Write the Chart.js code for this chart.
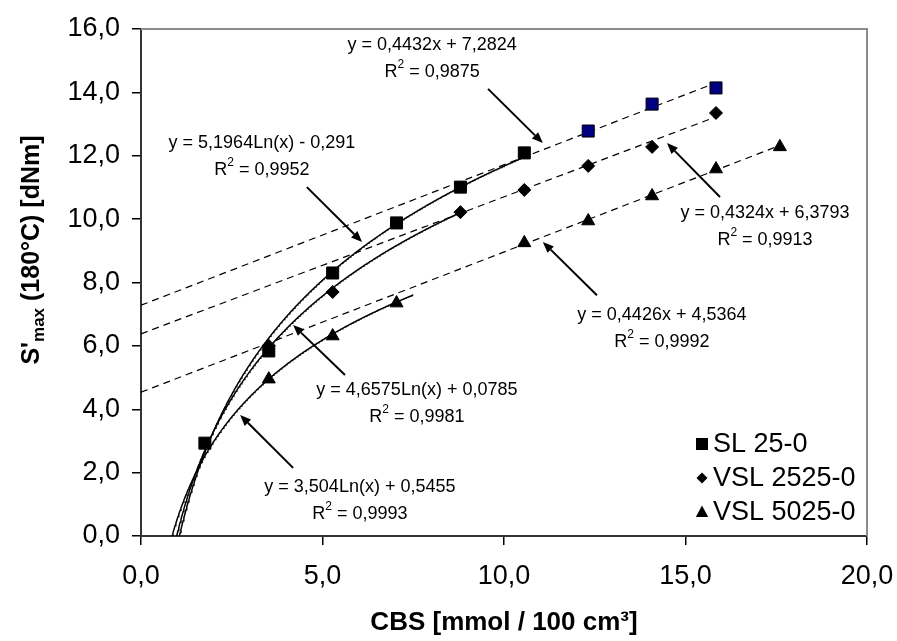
<!DOCTYPE html>
<html>
<head>
<meta charset="utf-8">
<script src="https://cdn.jsdelivr.net/npm/chart.js@4/dist/chart.umd.min.js"></script>
<style>
body { margin: 0; background: #fff; }
canvas { display: block; }
</style>
</head>
<body>
<canvas id="chart" width="897" height="641"></canvas>
<script>
// measured points (CBS in mmol/100 cm3, S'max in dNm)
var cbsSL = [1.76, 3.52, 5.28, 7.04, 8.8, 10.56, 12.32, 14.08, 15.84];
var smaxSL = [2.93, 5.84, 8.30, 9.88, 11.01, 12.09, 12.78, 13.63, 14.14];
var cbsVSL2525 = [3.52, 5.28, 8.8, 10.56, 12.32, 14.08, 15.84];
var smaxVSL2525 = [6.0, 7.70, 10.22, 10.92, 11.68, 12.28, 13.35];
var cbsVSL5025 = [3.52, 5.28, 7.04, 10.56, 12.32, 14.08, 15.84, 17.6];
var smaxVSL5025 = [4.95, 6.31, 7.35, 9.25, 9.94, 10.73, 11.58, 12.28];
var seriesNames = ["SL 25-0", "VSL 2525-0", "VSL 5025-0"];

var xTicks = [0, 5, 10, 15, 20];
var yTicks = [0, 2, 4, 6, 8, 10, 12, 14, 16];

// trendlines as printed on the chart
var logA = [5.1964, 4.6575, 3.504];
var logB = [-0.291, 0.0785, 0.5455];
var logEnd = [10.56, 8.8, 7.5];
var linA = [0.4432, 0.4324, 0.4426];
var linB = [7.2824, 6.3793, 4.5364];
var linEnd = [15.84, 15.84, 17.6];

var logText = ["y = 5,1964Ln(x) - 0,291", "y = 4,6575Ln(x) + 0,0785", "y = 3,504Ln(x) + 0,5455"];
var logR2 = ["0,9952", "0,9981", "0,9993"];
var linText = ["y = 0,4432x + 7,2824", "y = 0,4324x + 6,3793", "y = 0,4426x + 4,5364"];
var linR2 = ["0,9875", "0,9913", "0,9992"];

// label placement in data units: text centre, arrow tail, arrow tip
var notes = [
    { eq: linText[0], r2: linR2[0], at: [8.02, 15.49], from: [9.56, 14.11], to: [11.07, 12.40] },
    { eq: logText[0], r2: logR2[0], at: [3.33, 12.40], from: [4.57, 11.01], to: [6.09, 9.28] },
    { eq: linText[1], r2: linR2[1], at: [17.19, 10.19], from: [15.95, 10.70], to: [14.49, 12.40] },
    { eq: linText[2], r2: linR2[2], at: [14.35, 6.97], from: [12.56, 7.60], to: [11.07, 9.28] },
    { eq: logText[1], r2: logR2[1], at: [7.60, 4.61], from: [5.62, 5.08], to: [4.19, 6.66] },
    { eq: logText[2], r2: logR2[2], at: [6.03, 1.55], from: [4.19, 2.15], to: [2.73, 3.82] }
];

var FONT = "'Liberation Sans', Arial, sans-serif";

function fmt(v) {
    return Number(v).toFixed(1).replace(".", ",");
}

function pairs(xs, ys) {
    return xs.map(function (x, i) { return { x: x, y: ys[i] }; });
}

function logCurve(i) {
    var pts = [];
    for (var x = 0.8; x < logEnd[i]; x += 0.02) {
        pts.push({ x: x, y: logA[i] * Math.log(x) + logB[i] });
    }
    pts.push({ x: logEnd[i], y: logA[i] * Math.log(logEnd[i]) + logB[i] });
    return pts;
}

function linLine(i) {
    return [{ x: 0, y: linB[i] }, { x: linEnd[i], y: linA[i] * linEnd[i] + linB[i] }];
}

// the last three SL markers are filled dark blue
var slFill = cbsSL.map(function (x, i) { return i >= 6 ? "#000080" : "#000"; });

function marker(ctx, style, x, y, r) {
    ctx.beginPath();
    if (style === "rect") {
        ctx.rect(x - r, y - r, 2 * r, 2 * r);
    } else if (style === "rectRot") {
        ctx.moveTo(x, y - r); ctx.lineTo(x + r, y); ctx.lineTo(x, y + r); ctx.lineTo(x - r, y);
    } else {
        ctx.moveTo(x, y - r); ctx.lineTo(x + r * 0.95, y + r * 0.75); ctx.lineTo(x - r * 0.95, y + r * 0.75);
    }
    ctx.closePath();
    ctx.fill();
}

function arrow(ctx, x1, y1, x2, y2) {
    var a = Math.atan2(y2 - y1, x2 - x1);
    var len = 11, hw = 4.5;
    var bx = x2 - len * Math.cos(a), by = y2 - len * Math.sin(a);
    ctx.beginPath();
    ctx.moveTo(x1, y1);
    ctx.lineTo(bx, by);
    ctx.lineWidth = 2;
    ctx.strokeStyle = "#000";
    ctx.stroke();
    ctx.beginPath();
    ctx.moveTo(x2, y2);
    ctx.lineTo(bx + hw * Math.sin(a), by - hw * Math.cos(a));
    ctx.lineTo(bx - hw * Math.sin(a), by + hw * Math.cos(a));
    ctx.closePath();
    ctx.fillStyle = "#000";
    ctx.fill();
}

function drawR2(ctx, cx, cy, val) {
    var big = "18px " + FONT, small = "12px " + FONT;
    ctx.font = big;
    var wR = ctx.measureText("R").width;
    var rest = " = " + val;
    var wRest = ctx.measureText(rest).width;
    ctx.font = small;
    var w2 = ctx.measureText("2").width;
    var x = cx - (wR + w2 + wRest) / 2;
    ctx.textAlign = "left";
    ctx.textBaseline = "middle";
    ctx.font = big;
    ctx.fillText("R", x, cy);
    ctx.font = small;
    ctx.fillText("2", x + wR, cy - 7);
    ctx.font = big;
    ctx.fillText(rest, x + wR + w2, cy);
}

var decor = {
    id: "decor",
    afterDatasetsDraw: function (chart) {
        var ctx = chart.ctx, a = chart.chartArea;
        var xs = chart.scales.x, ys = chart.scales.y;
        ctx.save();

        // grey frame on top and right
        ctx.strokeStyle = "#8c8c8c";
        ctx.lineWidth = 2;
        ctx.beginPath();
        ctx.moveTo(a.left, a.top);
        ctx.lineTo(a.right, a.top);
        ctx.lineTo(a.right, a.bottom);
        ctx.stroke();

        // equations with arrows
        notes.forEach(function (n) {
            var cx = xs.getPixelForValue(n.at[0]), cy = ys.getPixelForValue(n.at[1]);
            ctx.fillStyle = "#000";
            ctx.font = "18px " + FONT;
            ctx.textAlign = "center";
            ctx.textBaseline = "middle";
            ctx.fillText(n.eq, cx, cy);
            drawR2(ctx, cx, cy + 27, n.r2);
            arrow(ctx, xs.getPixelForValue(n.from[0]), ys.getPixelForValue(n.from[1]),
                xs.getPixelForValue(n.to[0]), ys.getPixelForValue(n.to[1]));
        });

        // legend, bottom right inside the plot
        var styles = ["rect", "rectRot", "triangle"];
        var sizes = [6, 5.5, 6.5];
        var mx = a.right - 165;
        var rows = [a.bottom - 92, a.bottom - 58, a.bottom - 24];
        ctx.font = "27px " + FONT;
        ctx.textAlign = "left";
        ctx.textBaseline = "middle";
        seriesNames.forEach(function (name, i) {
            ctx.fillStyle = "#000";
            marker(ctx, styles[i], mx, rows[i], sizes[i]);
            ctx.fillText(name, mx + 11, rows[i] + 1);
        });
        ctx.restore();
    },
    afterDraw: function (chart) {
        var ctx = chart.ctx, a = chart.chartArea;
        ctx.save();
        ctx.fillStyle = "#000";

        // x title
        ctx.font = "bold 26px " + FONT;
        ctx.textAlign = "center";
        ctx.textBaseline = "middle";
        ctx.fillText("CBS [mmol / 100 cm\u00b3]", (a.left + a.right) / 2, 623);

        // y title with subscript
        var p1 = "S'", p2 = "max", p3 = " (180\u00b0C) [dNm]";
        var big = "bold 25px " + FONT, small = "bold 17px " + FONT;
        ctx.font = big;
        var w1 = ctx.measureText(p1).width, w3 = ctx.measureText(p3).width;
        ctx.font = small;
        var w2 = ctx.measureText(p2).width;
        var total = w1 + w2 + w3;
        ctx.translate(32, 250);
        ctx.rotate(-Math.PI / 2);
        ctx.textAlign = "left";
        var x0 = -total / 2;
        ctx.font = big;
        ctx.fillText(p1, x0, 0);
        ctx.font = small;
        ctx.fillText(p2, x0 + w1, 7);
        ctx.font = big;
        ctx.fillText(p3, x0 + w1 + w2, 0);
        ctx.restore();
    }
};

var lineStyle = { showLine: true, pointRadius: 0, borderColor: "#000", fill: false, order: 1 };

var datasets = [
    { label: seriesNames[0], data: pairs(cbsSL, smaxSL), pointStyle: "rect", pointRadius: 8.5,
      backgroundColor: slFill, borderColor: "#000", borderWidth: 1, order: 0 },
    { label: seriesNames[1], data: pairs(cbsVSL2525, smaxVSL2525), pointStyle: "rectRot", pointRadius: 6.5,
      backgroundColor: "#000", borderColor: "#000", borderWidth: 1, order: 0 },
    { label: seriesNames[2], data: pairs(cbsVSL5025, smaxVSL5025), pointStyle: "triangle", pointRadius: 7.5,
      backgroundColor: "#000", borderColor: "#000", borderWidth: 1, order: 0 }
];
for (var i = 0; i < 3; i++) {
    datasets.push(Object.assign({ label: "log " + i, data: logCurve(i), borderWidth: 1.5 }, lineStyle));
    datasets.push(Object.assign({ label: "lin " + i, data: linLine(i), borderWidth: 1.2, borderDash: [7, 5] }, lineStyle));
}

new Chart(document.getElementById("chart"), {
    type: "scatter",
    data: { datasets: datasets },
    options: {
        responsive: false,
        animation: false,
        layout: { padding: { top: 29, right: 30, left: 0, bottom: 0 } },
        plugins: { legend: { display: false }, tooltip: { enabled: false } },
        scales: {
            x: {
                type: "linear", min: 0, max: 20,
                afterBuildTicks: function (s) { s.ticks = xTicks.map(function (v) { return { value: v }; }); },
                afterFit: function (s) { s.height = 105; s.paddingLeft = 0; s.paddingRight = 0; },
                ticks: { callback: fmt, color: "#000", font: { family: FONT, size: 27 }, padding: 15, maxRotation: 0 },
                grid: { drawOnChartArea: false, drawTicks: true, tickLength: 9, color: "#000", lineWidth: 1.5 },
                border: { color: "#333", width: 2 }
            },
            y: {
                type: "linear", min: 0, max: 16,
                afterBuildTicks: function (s) { s.ticks = yTicks.map(function (v) { return { value: v }; }); },
                afterFit: function (s) { s.width = 141; s.paddingTop = 0; s.paddingBottom = 0; },
                ticks: { callback: fmt, color: "#000", font: { family: FONT, size: 27 }, padding: 12 },
                grid: { drawOnChartArea: false, drawTicks: true, tickLength: 9, color: "#000", lineWidth: 1.5 },
                border: { color: "#333", width: 2 }
            }
        }
    },
    plugins: [decor]
});
</script>
</body>
</html>
